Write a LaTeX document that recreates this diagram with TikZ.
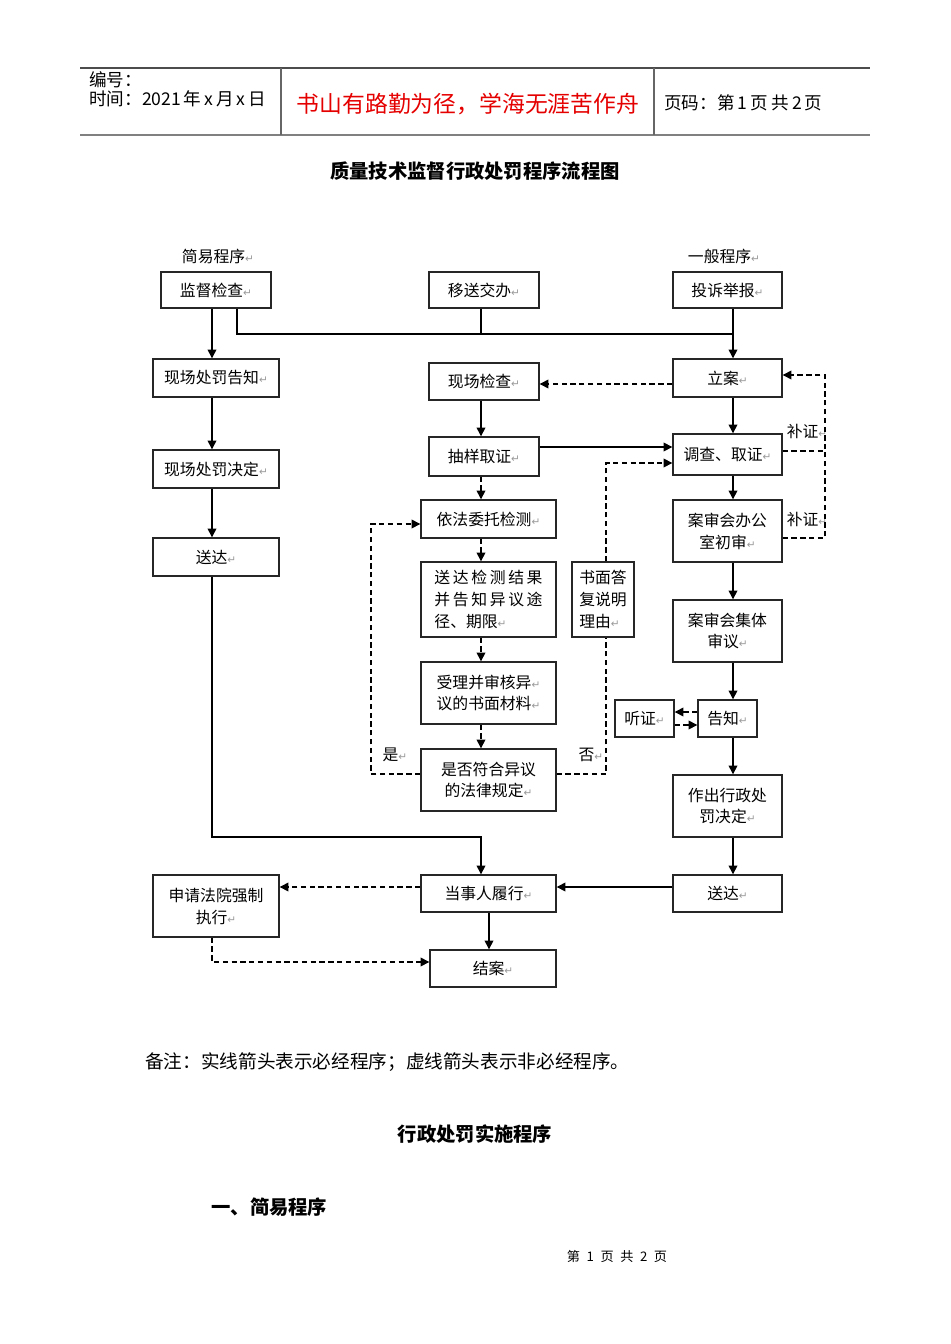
\documentclass[tikz,border=0pt]{standalone}
\usepackage{fontspec}
\setmainfont{Noto Sans CJK SC}
\newfontfamily\symfont{DejaVu Sans}
\usetikzlibrary{arrows.meta}

% small paragraph mark as printed after each text
\newcommand{\retmark}{{\symfont\fontsize{6}{6}\selectfont\textcolor{gray!80}{↵}}}

\begin{document}
\begin{tikzpicture}[x=0.02cm,y=-0.02cm,line cap=butt,line join=miter,
    box/.style={draw=black!85,line width=0.8pt,align=center,inner sep=2pt,
      font=\fontsize{9}{12.5}\selectfont},
    arr/.style={line width=0.8pt,-{Triangle[length=5pt,width=5pt]}},
    darr/.style={line width=0.8pt,dash pattern=on 3pt off 2pt,-{Triangle[length=5pt,width=5pt]}},
    dln/.style={line width=0.8pt,dash pattern=on 3pt off 2pt},
    lbl/.style={font=\fontsize{9}{11}\selectfont,inner sep=0pt}]
  \useasboundingbox (0,0) rectangle (950,1344);

  % Page header
  \draw[black!70,line width=0.6pt] (80,68) -- (870,68);
  \draw[gray,line width=1.3pt] (80,135) -- (870,135);
  \draw[black!60,line width=0.6pt] (281,68) -- (281,135) (654,68) -- (654,135);
  \node[anchor=west,inner sep=0pt,font=\fontsize{10}{12}\selectfont] (bh) at (89,80) {编号：};
  \node[anchor=west,inner sep=0pt,font=\fontsize{10}{12}\selectfont] (sj) at (89,99) {时间：2021\,年\,x\,月\,x\,日};
  \node[inner sep=0pt,text=red!90!black,font=\fontsize{13}{15}\selectfont] (motto) at (468,104) {书山有路勤为径，学海无涯苦作舟};
  \node[anchor=west,inner sep=0pt,font=\fontsize{10}{12}\selectfont] (ym) at (664,103) {页码：第\,1\,页\ 共\,2\,页};
  \node[inner sep=0pt,font=\fontsize{11}{13}\selectfont\bfseries] (title) at (475,171) {质量技术监督行政处罚程序流程图};

  % Column lines
  \coordinate (lc) at (212,0);
  \coordinate (mid) at (481,0);
  \coordinate (rc) at (733,0);

  % Simple procedure
  \node[lbl] (jy) at (218,256) {简易程序\retmark};
  \node[box,minimum width=2.2cm,minimum height=0.72cm] (jd) at (216,290) {监督检查\retmark};
  \node[box,minimum width=2.52cm,minimum height=0.76cm] (xzgz) at (216,378) {现场处罚告知\retmark};
  \node[box,minimum width=2.52cm,minimum height=0.76cm] (xzjd) at (216,469) {现场处罚决定\retmark};
  \node[box,minimum width=2.52cm,minimum height=0.76cm] (sdL) at (216,557) {送达\retmark};

  % Middle column
  \node[box,minimum width=2.2cm,minimum height=0.72cm] (yj) at (484,290) {移送交办\retmark};
  \node[box,minimum width=2.2cm,minimum height=0.74cm] (xc) at (484,381.5) {现场检查\retmark};
  \node[box,minimum width=2.2cm,minimum height=0.78cm] (cy) at (484,456.5) {抽样取证\retmark};
  \node[box,minimum width=2.7cm,minimum height=0.76cm] (wt) at (488.5,519) {依法委托检测\retmark};
  \node[box,minimum width=2.7cm,minimum height=1.5cm,align=left] (jg) at (488.5,599.5)
    {送\,达\,检\,测\,结\,果\\并\,告\,知\,异\,议\,途\\径、期限\retmark};
  \node[box,minimum width=1.24cm,minimum height=1.5cm,align=left] (sm) at (603,599.5)
    {书面答\\复说明\\理由\retmark};
  \node[box,minimum width=2.7cm,minimum height=1.24cm,align=left] (sl) at (488.5,693)
    {受理并审核异\retmark\\议的书面材料\retmark};
  \node[box,minimum width=2.7cm,minimum height=1.24cm] (sf) at (488.5,780)
    {是否符合异议\\的法律规定\retmark};
  \node[lbl] (yes) at (395,755) {是\retmark};
  \node[lbl] (no) at (591,755) {否\retmark};

  % General procedure
  \node[lbl] (yb) at (724,256) {一般程序\retmark};
  \node[box,minimum width=2.18cm,minimum height=0.72cm] (ts) at (727.5,290) {投诉举报\retmark};
  \node[box,minimum width=2.18cm,minimum height=0.76cm] (la) at (727.5,378) {立案\retmark};
  \node[box,minimum width=2.18cm,minimum height=0.82cm] (dc) at (727.5,454.5) {调查、取证\retmark};
  \node[box,minimum width=2.18cm,minimum height=1.24cm] (cs) at (727.5,531) {案审会办公\\室初审\retmark};
  \node[box,minimum width=2.18cm,minimum height=1.24cm] (jt) at (727.5,631) {案审会集体\\审议\retmark};
  \node[box,minimum width=1.18cm,minimum height=0.74cm] (gz) at (727.5,718.5) {告知\retmark};
  \node[box,minimum width=1.18cm,minimum height=0.74cm] (tz) at (644.5,718.5) {听证\retmark};
  \node[box,minimum width=2.18cm,minimum height=1.24cm] (zc) at (727.5,806) {作出行政处\\罚决定\retmark};
  \node[box,minimum width=2.18cm,minimum height=0.74cm] (sdR) at (727.5,893.5) {送达\retmark};
  \node[lbl] (bz1) at (807,431) {补证\retmark};
  \node[lbl] (bz2) at (807,519) {补证\retmark};

  % Bottom
  \node[box,minimum width=2.7cm,minimum height=0.74cm] (dsr) at (488.5,893.5) {当事人履行\retmark};
  \node[box,minimum width=2.52cm,minimum height=1.24cm] (sq) at (216,906) {申请法院强制\\执行\retmark};
  \node[box,minimum width=2.52cm,minimum height=0.74cm] (ja) at (493,968.5) {结案\retmark};

  % Solid connectors
  \foreach \a/\b in {jd/xzgz,xzgz/xzjd,xzjd/sdL}
    \draw[arr] (lc |- \a.south) -- (lc |- \b.north);
  \foreach \a/\b in {ts/la,la/dc,dc/cs,cs/jt,jt/gz,gz/zc,zc/sdR}
    \draw[arr] (rc |- \a.south) -- (rc |- \b.north);
  \draw[arr] (mid |- xc.south) -- (mid |- cy.north);
  \coordinate (jn) at (237,334);
  \draw[line width=0.8pt] (jd.south -| jn) -- (jn) -- (jn -| rc);
  \draw[line width=0.8pt] (mid |- yj.south) -- (mid |- jn);
  \draw[arr] (cy.east |- 0,447) -- (dc.west |- 0,447);
  \coordinate (bend) at (481,837);
  \draw[arr] (lc |- sdL.south) |- (bend) -- (bend |- dsr.north);
  \draw[arr] (sdR.west |- 0,887) -- (dsr.east |- 0,887);
  \draw[arr] (489,912 |- dsr.south) -- (489,0 |- ja.north);

  % Dashed connectors
  \draw[darr] (la.west |- 0,384) -- (xc.east |- 0,384);
  \foreach \a/\b in {cy/wt,wt/jg,jg/sl,sl/sf}
    \draw[darr] (mid |- \a.south) -- (mid |- \b.north);
  \coordinate (yesc) at (371,774);
  \draw[darr] (sf.west |- yesc) -- (yesc) |- (wt.west |- 0,524);
  \coordinate (noc) at (606,774);
  \draw[dln] (sf.east |- noc) -- (noc) -- (noc |- sm.south);
  \coordinate (noc2) at (606,463);
  \draw[darr] (noc2 |- sm.north) -- (noc2) -- (dc.west |- noc2);
  \coordinate (bzc) at (825,375);
  \draw[darr] (dc.east |- 0,451) -| (bzc) -- (la.east |- bzc);
  \draw[dln] (cs.east |- 0,538) -| (bzc |- 0,451);
  \draw[darr] (gz.west |- 0,712) -- (tz.east |- 0,712);
  \draw[darr] (tz.east |- 0,725) -- (gz.west |- 0,725);
  \draw[darr] (dsr.west |- 0,887) -- (sq.east |- 0,887);
  \draw[darr] (lc |- sq.south) |- (ja.west |- 0,962);

  % Notes below the chart
  \node[anchor=west,inner sep=0pt,font=\fontsize{10.6}{12}\selectfont] (note) at (145,1062)
    {备注：实线箭头表示必经程序；虚线箭头表示非必经程序。};
  \node[inner sep=0pt,font=\fontsize{11}{13}\selectfont\bfseries] (ss) at (475,1134) {行政处罚实施程序};
  \node[anchor=west,inner sep=0pt,font=\fontsize{11}{13}\selectfont\bfseries] (jycx) at (211,1207) {一、简易程序};
  \node[inner sep=0pt,font=\fontsize{7.5}{9}\selectfont] (page) at (617,1256) {第\enspace 1\enspace 页\enspace 共\enspace 2\enspace 页};
\end{tikzpicture}
\end{document}
